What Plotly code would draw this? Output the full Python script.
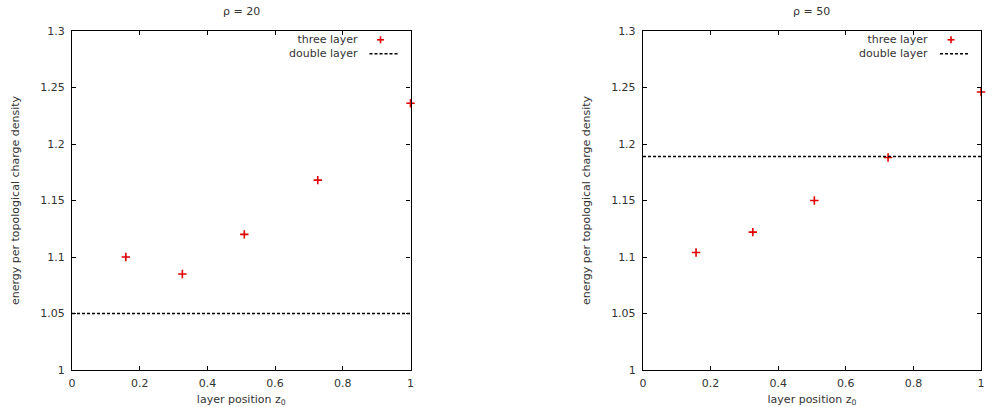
import plotly.graph_objects as go

# ---- data ----
z0_rho20 = [0.159, 0.326, 0.509, 0.726, 1.0]
e_rho20 = [1.100, 1.085, 1.120, 1.168, 1.236]
double_rho20 = 1.05

z0_rho50 = [0.157, 0.325, 0.507, 0.725, 1.0]
e_rho50 = [1.104, 1.122, 1.150, 1.188, 1.246]
double_rho50 = 1.189

titles = ["ρ = 20", "ρ = 50"]
xticks = [0, 0.2, 0.4, 0.6, 0.8, 1.0]
xticktext = ["0", "0.2", "0.4", "0.6", "0.8", "1"]
yticks = [1.0, 1.05, 1.1, 1.15, 1.2, 1.25, 1.3]
yticktext = ["1", "1.05", "1.1", "1.15", "1.2", "1.25", "1.3"]
legend_labels = ["three layer", "double layer"]

FONT = "DejaVu Sans"
TXT = "#333333"
FS = 11
W, H = 987, 407
ML, MR, MT, MB = 72, 2, 31, 37
PW = W - ML - MR

fig = go.Figure()

panels = [
    (z0_rho20, e_rho20, double_rho20, "x", "y"),
    (z0_rho50, e_rho50, double_rho50, "x2", "y2"),
]
for i, (xs, ys, dbl, xa, ya) in enumerate(panels):
    fig.add_trace(go.Scatter(
        x=xs, y=ys, mode="markers", xaxis=xa, yaxis=ya,
        marker=dict(symbol="cross-thin", size=6, color="#e00000",
                    line=dict(color="#e00000", width=1.6)),
        cliponaxis=False, showlegend=False, name=legend_labels[0]))
    fig.add_trace(go.Scatter(
        x=[0, 1], y=[dbl, dbl], mode="lines", xaxis=xa, yaxis=ya,
        line=dict(color="black", width=1.4, dash="3px,2px"),
        showlegend=False, name=legend_labels[1]))

axis_common = dict(
    showline=True, linecolor="black", linewidth=1.3, mirror="allticks",
    ticks="inside", ticklen=4, tickcolor="black", tickwidth=1,
    showgrid=False, zeroline=False,
    tickfont=dict(family=FONT, size=FS, color=TXT),
)

left_dom = [0, 340 / PW]
right_dom = [(645.5 - ML) / PW, 1.0]

xtitle = dict(text="layer position z<sub>0</sub>", standoff=6,
              font=dict(family=FONT, size=FS, color=TXT))
ytitle = dict(text="energy per topological charge density", standoff=18,
              font=dict(family=FONT, size=FS, color=TXT))

fig.update_layout(
    width=W, height=H,
    margin=dict(l=ML, r=MR, t=MT, b=MB),
    paper_bgcolor="white", plot_bgcolor="white",
    showlegend=False,
    xaxis=dict(domain=left_dom, range=[0, 1], tickvals=xticks, ticktext=xticktext,
               anchor="y", ticklabelstandoff=3, title=xtitle, **axis_common),
    yaxis=dict(domain=[0, 1], range=[1.0, 1.3], tickvals=yticks, ticktext=yticktext,
               anchor="x", ticklabelstandoff=4, title=ytitle, **axis_common),
    xaxis2=dict(domain=right_dom, range=[0, 1], tickvals=xticks, ticktext=xticktext,
                anchor="y2", ticklabelstandoff=3, title=xtitle, **axis_common),
    yaxis2=dict(domain=[0, 1], range=[1.0, 1.3], tickvals=yticks, ticktext=yticktext,
                anchor="x2", ticklabelstandoff=4, title=ytitle, **axis_common),
)

annotations = []
shapes = []
for i, (xa, ya) in enumerate([("x", "y"), ("x2", "y2")]):
    xd = f"{xa} domain"
    yd = f"{ya} domain"
    annotations.append(dict(text=titles[i], xref=xd, yref=yd, x=0.5, y=1,
                            xanchor="center", yanchor="bottom", yshift=11,
                            showarrow=False, font=dict(family=FONT, size=FS, color=TXT)))
    annotations.append(dict(text="<br>".join(legend_labels), xref=xd, yref=yd, x=1, y=1,
                            xanchor="right", yanchor="middle", align="right",
                            xshift=-52, yshift=-15.5, borderpad=0,
                            showarrow=False,
                            font=dict(family=FONT, size=FS, color=TXT)))
    # legend samples
    cy = -8.8
    dy = -22.8
    shapes.append(dict(type="line", xref=xd, yref=yd, xsizemode="pixel", ysizemode="pixel",
                       xanchor=1, yanchor=1, x0=-33.5, x1=-26.5, y0=cy, y1=cy,
                       line=dict(color="#e00000", width=1.6)))
    shapes.append(dict(type="line", xref=xd, yref=yd, xsizemode="pixel", ysizemode="pixel",
                       xanchor=1, yanchor=1, x0=-30, x1=-30, y0=cy + 3.5, y1=cy - 3.5,
                       line=dict(color="#e00000", width=1.6)))
    shapes.append(dict(type="line", xref=xd, yref=yd, xsizemode="pixel", ysizemode="pixel",
                       xanchor=1, yanchor=1, x0=-41, x1=-13, y0=dy, y1=dy,
                       line=dict(color="black", width=1.4, dash="3px,2px")))

fig.update_layout(annotations=annotations, shapes=shapes)

fig.write_html("out.html")
